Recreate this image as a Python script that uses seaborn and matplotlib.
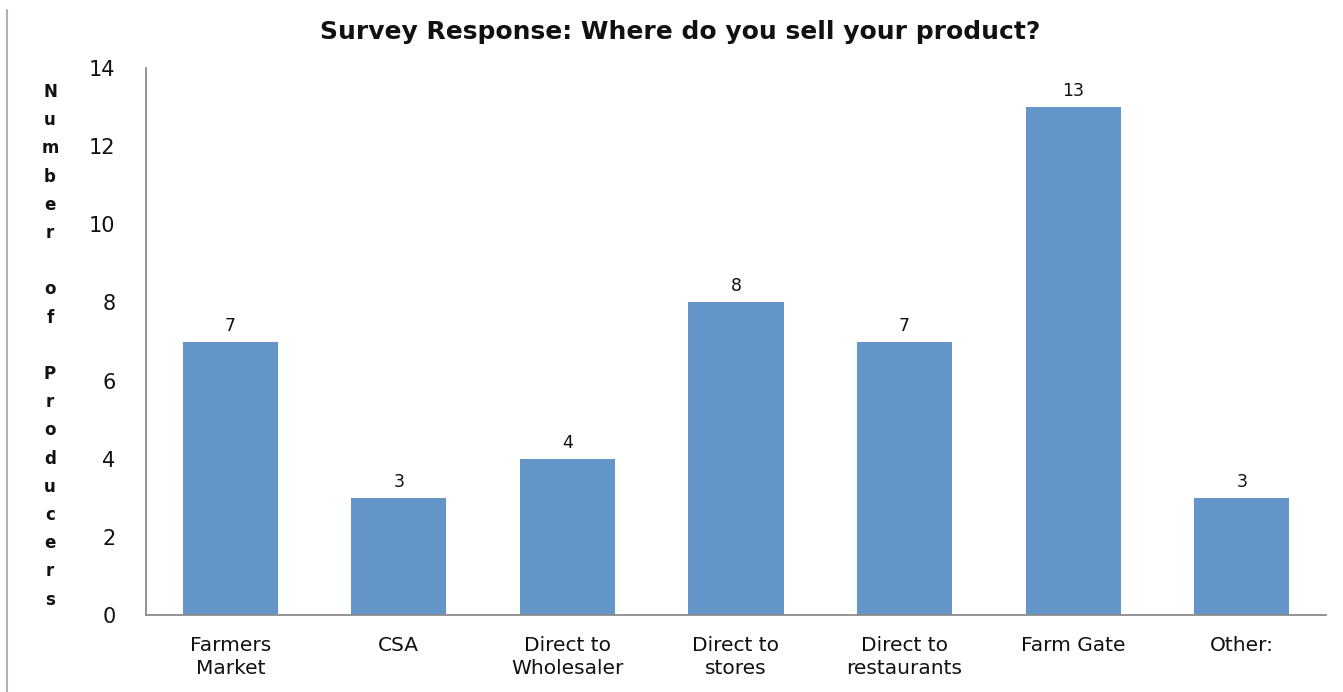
import matplotlib
matplotlib.use("Agg")
import matplotlib.pyplot as plt
from matplotlib.lines import Line2D
import seaborn as sns
import pandas as pd

categories = ["Farmers\nMarket", "CSA", "Direct to\nWholesaler", "Direct to\nstores",
              "Direct to\nrestaurants", "Farm Gate", "Other:"]
counts = [7, 3, 4, 8, 7, 13, 3]
y_ticks = [0, 2, 4, 6, 8, 10, 12, 14]
axis_title = "Number of Producers"
chart_title = "Survey Response: Where do you sell your product?"

sns.set_theme(style="white")
plt.rcParams["font.family"] = ["DejaVu Sans"]

W, H = 1343, 692
df = pd.DataFrame({"where": categories, "producers": counts})

fig = plt.figure(figsize=(W / 100, H / 100), dpi=100)
ax = fig.add_axes([146 / W, 1 - 615 / H, (1326 - 146) / W, (615 - 68) / H])

sns.barplot(data=df, x="where", y="producers", color="#6395C9", saturation=1,
            width=0.565, ax=ax)
for p in ax.patches:
    p.set_edgecolor("none")

ax.bar_label(ax.containers[0], labels=[str(v) for v in counts], padding=5,
             fontsize=12.5, color="#111111")

ax.set_ylim(0, 14)
ax.set_xlim(-0.5, len(categories) - 0.5)
ax.set_yticks(y_ticks)
ax.set_yticklabels([str(t) for t in y_ticks], fontsize=15, color="#111111")
ax.set_xticks(range(len(categories)))
ax.set_xticklabels(categories, fontsize=14.5, color="#111111", linespacing=1.3)
ax.tick_params(axis="y", length=0, pad=22)
ax.tick_params(axis="x", length=0, pad=15)
ax.set_xlabel("")
ax.set_ylabel("")

for side in ("top", "right"):
    ax.spines[side].set_visible(False)
for side in ("left", "bottom"):
    ax.spines[side].set_color("#8c8c8c")
    ax.spines[side].set_linewidth(1.3)

# vertical axis title stacked one letter per line; a space leaves an empty line
for i, ch in enumerate(axis_title):
    if ch == " ":
        continue
    fig.text(50 / W, 1 - (97 + i * 28.2) / H, ch, ha="center", va="baseline",
             fontsize=12, fontweight="bold", color="#111111")

fig.text(680 / W, 1 - 39 / H, chart_title, ha="center", va="baseline",
         fontsize=18, fontweight="bold", color="#111111")

fig.add_artist(Line2D([7 / W, 7 / W], [0, 1 - 10 / H],
                      transform=fig.transFigure, color="#b0b0b0", linewidth=1.5))

fig.savefig("out.png", dpi=100)
